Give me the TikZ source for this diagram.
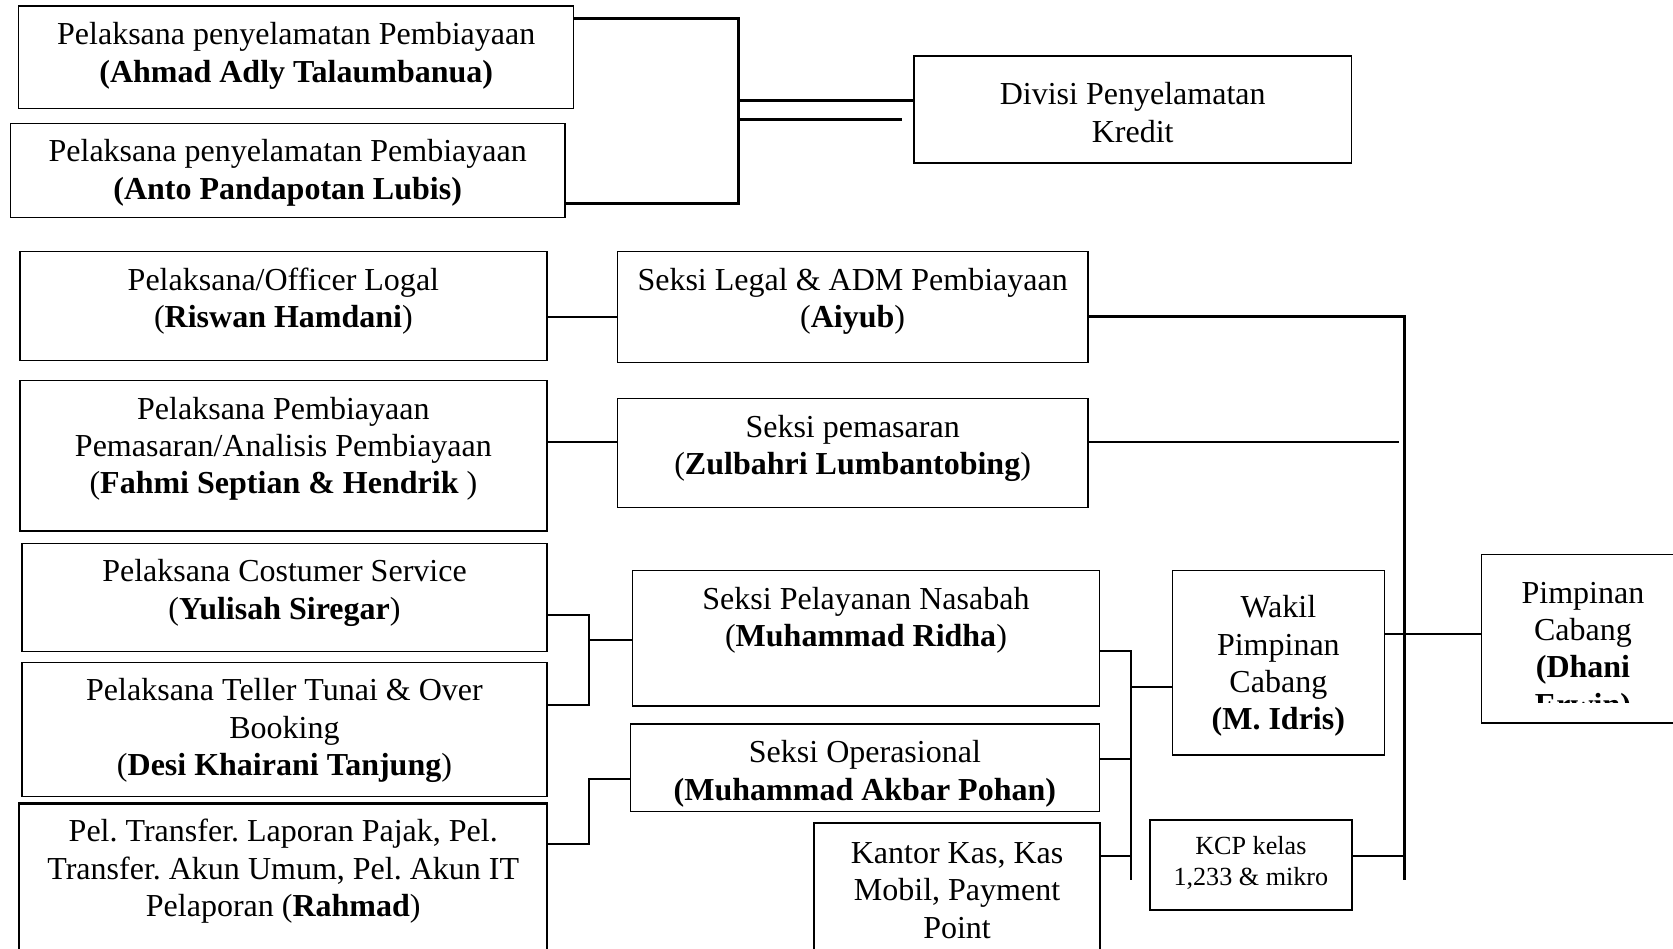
\documentclass[tikz,border=0pt]{standalone}
\usepackage{fontspec}
\setmainfont{Liberation Serif}
\usetikzlibrary{positioning}
\frenchspacing

\begin{document}
\begin{tikzpicture}[
            x=0.4pt,y=-0.4pt,
            box/.style 2 args={draw,rectangle,anchor=north west,inner sep=0pt,
              minimum width=#1*0.4pt,minimum height=#2*0.4pt,line width=.5pt},
            txt/.style={align=center,inner sep=0pt,font=\fontsize{12}{14}\selectfont},
            small/.style={txt,font=\fontsize{9.8}{11.8}\selectfont},
            link/.style={draw,line width=.7pt},
            heavy/.style={draw,line width=1.1pt}
          ]
          \useasboundingbox (0,0) rectangle (1568,889);

          %penyelamatan
          \node[box={520}{96}] (a1) at (17,5) {};
          \node[txt,below=6.3pt of a1.north] (a1t) {Pelaksana penyelamatan Pembiayaan\\\textbf{(Ahmad Adly Talaumbanua)}};
          \node[box={520}{88}] (a2) at (9,115) {};
          \node[txt,below=6.2pt of a2.north] (a2t) {Pelaksana penyelamatan Pembiayaan\\\textbf{(Anto Pandapotan Lubis)}};
          \node[box={410}{100}] (dps) at (856,52) {};
          \node[txt,below=10pt of dps.north] (dpst) {Divisi Penyelamatan\\Kredit};

          %pelaksana
          \node[box={494}{102}] (l1) at (18,235) {};
          \node[txt,below=6.2pt of l1.north] (l1t) {Pelaksana/Officer Logal\\(\textbf{Riswan Hamdani})};
          \node[box={494}{141}] (m1) at (18,356) {};
          \node[txt,below=6.2pt of m1.north] (m1t) {Pelaksana Pembiayaan\\Pemasaran/Analisis Pembiayaan\\(\textbf{Fahmi Septian \& Hendrik} )};
          \node[box={492}{101}] (c1) at (20,509) {};
          \node[txt,below=6pt of c1.north] (c1t) {Pelaksana Costumer Service\\(\textbf{Yulisah Siregar})};
          \node[box={492}{126}] (c2) at (20,620) {};
          \node[txt,below=6.2pt of c2.north] (c2t) {Pelaksana Teller Tunai \& Over\\Booking\\(\textbf{Desi Khairani Tanjung})};
          \node[box={495}{160},line width=.8pt] (r) at (17,752) {};
          \node[txt,below=6.2pt of r.north] (rt) {Pel. Transfer. Laporan Pajak, Pel.\\Transfer. Akun Umum, Pel. Akun IT\\Pelaporan (\textbf{Rahmad})};

          %seksi
          \node[box={441}{104}] (s1) at (578,235) {};
          \node[txt,below=6.2pt of s1.north] (s1t) {Seksi Legal \& ADM Pembiayaan\\(\textbf{Aiyub})};
          \node[box={441}{102}] (s2) at (578,373) {};
          \node[txt,below=6.2pt of s2.north] (s2t) {Seksi pemasaran\\(\textbf{Zulbahri Lumbantobing})};
          \node[box={438}{127}] (sp) at (592,534) {};
          \node[txt,below=6.2pt of sp.north] (spt) {Seksi Pelayanan Nasabah\\(\textbf{Muhammad Ridha})};
          \node[box={440}{82}] (so) at (590,678) {};
          \node[txt,below=6.2pt of so.north] (sot) {Seksi Operasional\\\textbf{(Muhammad Akbar Pohan)}};
          \node[box={268}{140},line width=.8pt] (kk) at (762,770) {};
          \node[txt,below=7.6pt of kk.north] (kkt) {Kantor Kas, Kas\\Mobil, Payment\\Point};

          %pimpinan
          \node[box={199}{173}] (w) at (1098,534) {};
          \node[txt,below=9.5pt of w.north] (wt) {Wakil\\Pimpinan\\Cabang\\\textbf{(M. Idris)}};
          \node[box={189}{84},line width=.7pt] (kcp) at (1077,768) {};
          \node[small,below=6pt of kcp.north] (kcpt) {KCP kelas\\1,233 \& mikro};
          \node[box={190}{158}] (pc) at (1388,519) {};
          \coordinate (pccut) at (1388,658);
          \begin{scope}
            \clip (pccut) rectangle (pc.north east);
            \node[txt,below=10.4pt of pc.north] (pct) {Pimpinan\\Cabang\\\textbf{(Dhani}\\\textbf{Erwin)}};
          \end{scope}

          %bus points
          \coordinate (k1) at (692,17);
          \coordinate (k2) at (692,191);
          \coordinate (k3) at (692,94);
          \coordinate (k4) at (692,112);
          \coordinate (k5) at (845,112);
          \coordinate (t1) at (1316,297);
          \coordinate (t2) at (1311,414);
          \coordinate (t3) at (1316,594);
          \coordinate (t4) at (1316,802);
          \coordinate (t0) at (1316,825);
          \coordinate (j1) at (552,576);
          \coordinate (j2) at (552,661);
          \coordinate (j3) at (552,600);
          \coordinate (j4) at (552,791);
          \coordinate (j5) at (552,730);
          \coordinate (b1) at (1060,610);
          \coordinate (b2) at (1060,644);
          \coordinate (b3) at (1060,711);
          \coordinate (b4) at (1060,802);
          \coordinate (b0) at (1060,825);

          %lines
          \path[heavy] (a1.east |- k1) -- (k1) -- (k2) -- (a2.east |- k2);
          \path[heavy] (k3) -- (dps.west |- k3);
          \path[heavy] (k4) -- (k5);
          \path[link] (l1.east |- t1) -- (s1.west |- t1);
          \path[heavy] (s1.east |- t1) -- (t1) -- (t0);
          \path[link] (m1.east |- t2) -- (s2.west |- t2);
          \path[link] (s2.east |- t2) -- (t2);
          \path[link] (w.east |- t3) -- (pc.west |- t3);
          \path[link] (kcp.east |- t4) -- (t4);
          \path[link] (c1.east |- j1) -- (j1) -- (j2) -- (c2.east |- j2);
          \path[link] (j3) -- (sp.west |- j3);
          \path[link] (r.east |- j4) -- (j4) -- (j5) -- (so.west |- j5);
          \path[link] (sp.east |- b1) -- (b1) -- (b0);
          \path[link] (b2) -- (w.west |- b2);
          \path[link] (so.east |- b3) -- (b3);
          \path[link] (kk.east |- b4) -- (b4);

      \end{tikzpicture}
\end{document}
